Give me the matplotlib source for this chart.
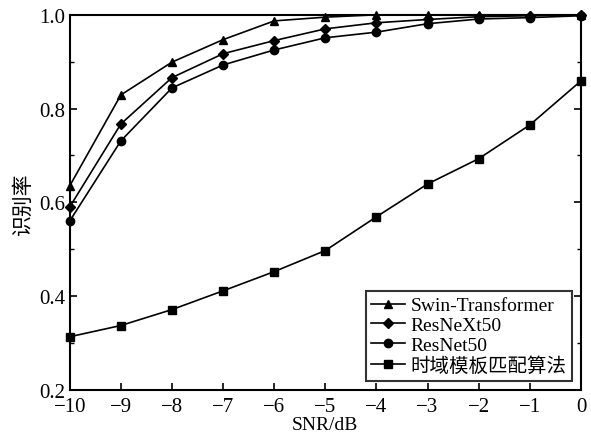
import matplotlib.pyplot as plt
from matplotlib.ticker import MultipleLocator

plt.rcParams['font.family'] = ['Liberation Serif', 'Noto Sans CJK SC']

snr = [-10, -9, -8, -7, -6, -5, -4, -3, -2, -1, 0]
swin = [0.635, 0.829, 0.899, 0.947, 0.987, 0.995, 1.0, 1.0, 1.0, 1.0, 1.0]
resnext = [0.590, 0.767, 0.866, 0.917, 0.945, 0.970, 0.983, 0.990, 0.996, 0.998, 1.0]
resnet = [0.560, 0.731, 0.844, 0.893, 0.925, 0.951, 0.963, 0.981, 0.991, 0.994, 0.998]
template = [0.313, 0.337, 0.371, 0.411, 0.452, 0.497, 0.569, 0.639, 0.693, 0.765, 0.859]

series = [
    (swin, '^', 'Swin-Transformer'),
    (resnext, 'D', 'ResNeXt50'),
    (resnet, 'o', 'ResNet50'),
    (template, 's', '时域模板匹配算法'),
]

fig, ax = plt.subplots(figsize=(5.91, 4.39), dpi=100)
for vals, m, lab in series:
    ms = 5 if m == 'D' else 6
    ax.plot(snr, vals, color='black', marker=m, markersize=ms, lw=1.2, label=lab,
            clip_on=False, zorder=3)

ax.set_xlim(-10, 0)
ax.set_ylim(0.2, 1.0)
ax.yaxis.set_minor_locator(MultipleLocator(0.1))
ax.set_xticks(snr)
ax.set_xticklabels(['\u2212' + str(-v) if v < 0 else '0' for v in snr])
ax.set_yticks([0.2, 0.4, 0.6, 0.8, 1.0])
ax.set_yticklabels(['0.2', '0.4', '0.6', '0.8', '1.0'])
ax.tick_params(direction='in', labelsize=15, length=5, width=1.2, right=True)
ax.tick_params(axis='x', pad=5)
ax.tick_params(axis='y', pad=3)
ax.tick_params(which='minor', direction='in', length=3, width=1.0, right=True)
for s in ax.spines.values():
    s.set_linewidth(1.5)

ax.set_xlabel('SNR/dB', fontsize=14, labelpad=0)
ax.set_ylabel('识别率', fontsize=15, labelpad=4)

leg = ax.legend(loc='lower right', fontsize=14, frameon=True, fancybox=False,
                handlelength=1.7, handletextpad=0.3, borderpad=0.3, labelspacing=0.12,
                borderaxespad=0.45)
leg.get_frame().set_edgecolor('black')
leg.get_frame().set_linewidth(1.5)

plt.subplots_adjust(left=0.118, right=0.983, top=0.964, bottom=0.11)
plt.savefig('out.png', dpi=100)
